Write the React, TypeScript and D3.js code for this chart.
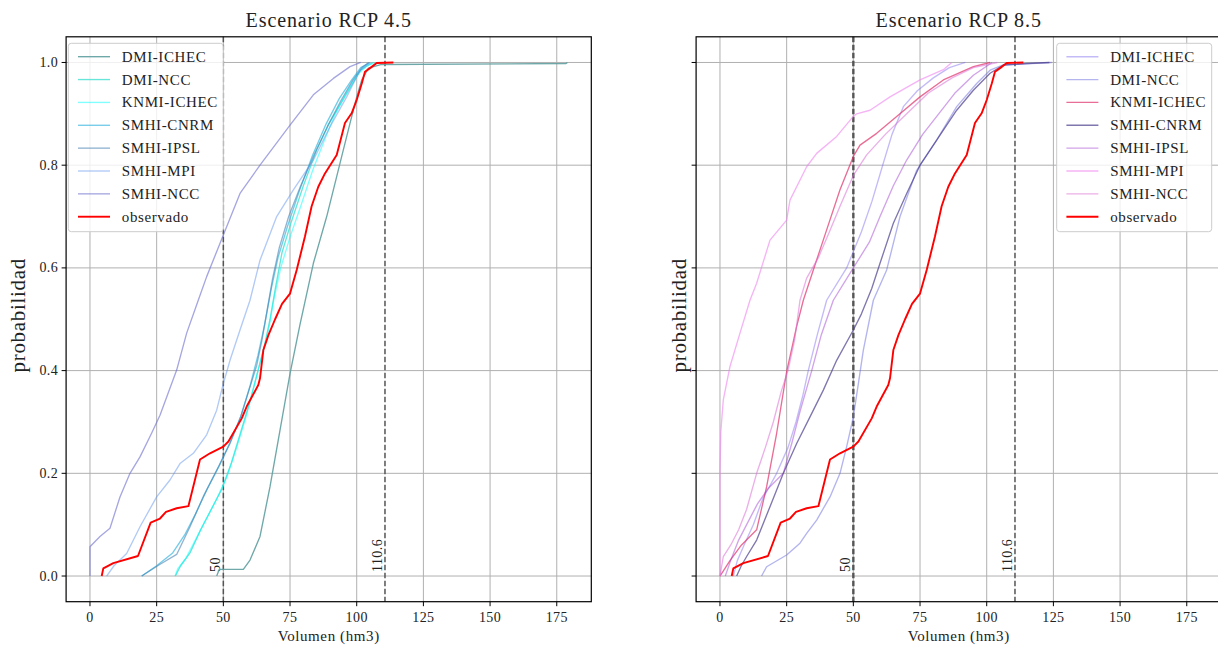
import React from "react";
import * as d3 from "d3";

type Pt = [number, number];

// ---------- axis ticks ----------
const volumeTicks = [0, 25, 50, 75, 100, 125, 150, 175];
const probTicks = [0, 0.2, 0.4, 0.6, 0.8, 1.0];
const refLines = [50, 110.6];
const modelNames = ["DMI-ICHEC", "DMI-NCC", "KNMI-ICHEC", "SMHI-CNRM", "SMHI-IPSL", "SMHI-MPI", "SMHI-NCC"];

// ---------- observed (same in both panels) ----------
const observado: Pt[] = [[4.4,0],[5,0.015],[8.75,0.025],[18,0.039],[22.75,0.104],[26.25,0.112],[28.5,0.125],[32.5,0.132],[36.9,0.136],[41.25,0.227],[45,0.239],[50,0.252],[51.9,0.262],[56.9,0.307],[58.75,0.33],[63.1,0.372],[63.75,0.385],[65,0.44],[66.9,0.469],[69.4,0.5],[72,0.53],[75,0.55],[77.5,0.596],[80.6,0.661],[83.1,0.72],[85.6,0.758],[88.1,0.784],[92.5,0.82],[95.6,0.882],[98.1,0.901],[100,0.927],[101.9,0.959],[103.1,0.982],[105,0.989],[107.5,0.999],[113.75,1.0]];

// ---------- RCP 4.5 ----------
const rcp45DmiIchec: Pt[] = [[47.5,0],[48.5,0.013],[57.5,0.013],[60,0.031],[63.75,0.077],[67.5,0.174],[71.25,0.284],[75,0.394],[78.75,0.49],[83.75,0.609],[88.75,0.7],[93.75,0.804],[97.5,0.882],[100,0.933],[101.9,0.966],[104.4,0.989],[109,0.996],[178.5,0.998],[179,1.0]];
const rcp45DmiNcc: Pt[] = [[32,0],[34,0.02],[37.5,0.045],[41.5,0.09],[45.5,0.13],[49.5,0.17],[53,0.22],[56.5,0.28],[60,0.34],[63,0.4],[65.5,0.45],[67.5,0.5],[69.5,0.56],[72,0.63],[75.5,0.69],[80,0.76],[85,0.83],[89.5,0.88],[94,0.92],[98,0.955],[101.5,0.985],[106,1.0]];
const rcp45KnmiIchec: Pt[] = [[31.9,0],[33,0.015],[36,0.035],[39.5,0.07],[43.5,0.11],[47.5,0.15],[51.5,0.195],[55,0.25],[58.5,0.31],[61.5,0.37],[64.5,0.43],[67,0.48],[69,0.54],[71.5,0.6],[75,0.66],[79,0.72],[83.5,0.79],[88,0.85],[92,0.9],[96,0.94],[100,0.975],[104,0.995],[108,1.0]];
const rcp45SmhiCnrm: Pt[] = [[19.4,0],[25,0.02],[31,0.045],[35.5,0.08],[39.5,0.12],[44,0.17],[48.5,0.215],[52.5,0.26],[56.5,0.31],[60,0.37],[63,0.43],[65.5,0.49],[68,0.56],[70.5,0.62],[74,0.68],[78.5,0.75],[83.5,0.82],[88.5,0.88],[93.5,0.93],[98,0.965],[101.5,0.99],[105,1.0]];
const rcp45SmhiIpsl: Pt[] = [[19.4,0],[26,0.022],[32.5,0.042],[37.5,0.096],[42.5,0.155],[47.5,0.206],[52.5,0.258],[56.5,0.31],[59.5,0.36],[62.5,0.41],[64.5,0.46],[66.5,0.52],[68.5,0.58],[71,0.64],[74.5,0.7],[79,0.76],[84,0.82],[89,0.875],[94,0.925],[98.5,0.965],[102,0.99],[104.5,1.0]];
const rcp45SmhiMpi: Pt[] = [[6.25,0],[9,0.02],[13.75,0.044],[18.75,0.096],[25,0.154],[30,0.187],[33.75,0.219],[38.75,0.239],[43.75,0.275],[47.5,0.323],[50,0.375],[52.5,0.42],[56.25,0.479],[60,0.537],[63.75,0.615],[70,0.7],[76.25,0.752],[83.75,0.81],[90,0.875],[96.25,0.933],[101.25,0.985],[105,1.0]];
const rcp45SmhiNcc: Pt[] = [[0,0],[0,0.057],[3.75,0.077],[7.5,0.093],[11.25,0.154],[15,0.2],[18.75,0.232],[23.1,0.278],[26.25,0.313],[32.5,0.401],[36.25,0.473],[40.6,0.537],[43.75,0.583],[50,0.664],[56.25,0.745],[63.75,0.8],[75,0.878],[83.75,0.937],[91.25,0.969],[97.5,0.992],[101.5,1.0]];

// ---------- RCP 8.5 ----------
const rcp85DmiIchec: Pt[] = [[5,0],[6.5,0.03],[9,0.06],[12.5,0.1],[16,0.15],[21.25,0.2],[25.5,0.25],[28.5,0.3],[31,0.35],[33.1,0.4],[36.5,0.47],[40,0.537],[47.5,0.6],[53,0.67],[57,0.73],[61,0.8],[64.5,0.86],[68.75,0.914],[74,0.945],[80,0.97],[86,0.99],[92,1.0]];
const rcp85DmiNcc: Pt[] = [[15.6,0],[17.5,0.018],[25,0.041],[30,0.064],[32.5,0.083],[36.25,0.109],[41.25,0.154],[45,0.2],[47.5,0.252],[50,0.31],[51.9,0.375],[53.75,0.44],[57.5,0.537],[62.5,0.596],[67.5,0.7],[73.75,0.79],[81.25,0.849],[88.75,0.914],[96.25,0.959],[101.25,0.985],[106,0.995],[124.4,1.0]];
const rcp85KnmiIchec: Pt[] = [[0,0],[3.75,0.03],[8,0.06],[13.75,0.09],[17.5,0.174],[21.25,0.278],[25,0.398],[28.75,0.486],[31.25,0.537],[35,0.596],[40,0.674],[45,0.752],[50,0.817],[52.5,0.839],[58.75,0.862],[66.25,0.895],[75,0.933],[83.75,0.966],[95,0.992],[101.25,1.0]];
const rcp85SmhiCnrm: Pt[] = [[6.25,0],[8,0.02],[10,0.038],[13.75,0.07],[18.75,0.135],[23.75,0.2],[28.75,0.258],[33.75,0.31],[38.75,0.362],[43.75,0.42],[50,0.479],[53,0.51],[56.9,0.56],[60,0.609],[65,0.687],[70,0.745],[75,0.8],[81.25,0.849],[88.75,0.907],[95,0.946],[101.25,0.979],[106.25,0.995],[115,0.998],[123.5,1.0]];
const rcp85SmhiIpsl: Pt[] = [[2,0],[4,0.03],[7,0.07],[10,0.1],[14,0.14],[18,0.17],[23.75,0.2],[27,0.26],[30,0.32],[34.4,0.4],[38,0.47],[42.5,0.537],[50,0.6],[56,0.65],[60,0.7],[65,0.76],[70,0.81],[76,0.86],[82,0.9],[88,0.94],[95,0.975],[102,1.0]];
const rcp85SmhiMpi: Pt[] = [[0,0],[0,0.1],[0,0.2],[0.3,0.28],[1.25,0.343],[3.75,0.408],[7.5,0.473],[11.25,0.537],[13.75,0.57],[18.75,0.654],[25,0.693],[26.25,0.732],[32.5,0.797],[36.25,0.823],[43.75,0.856],[50,0.895],[51.25,0.9],[56.25,0.907],[63.75,0.933],[75,0.966],[83.75,0.986],[86.9,1.0]];
const rcp85SmhiNcc: Pt[] = [[0,0],[1.25,0.038],[4,0.06],[7,0.09],[10,0.13],[13.75,0.2],[17,0.25],[20,0.3],[23,0.36],[25.5,0.4],[28,0.46],[30,0.537],[32.5,0.58],[36.9,0.62],[41,0.67],[45,0.72],[50,0.78],[55,0.82],[62,0.86],[70,0.9],[78,0.94],[87,0.97],[95,0.99],[104,1.0]];

const rcp45Data = [rcp45DmiIchec, rcp45DmiNcc, rcp45KnmiIchec, rcp45SmhiCnrm, rcp45SmhiIpsl, rcp45SmhiMpi, rcp45SmhiNcc];
const rcp85Data = [rcp85DmiIchec, rcp85DmiNcc, rcp85KnmiIchec, rcp85SmhiCnrm, rcp85SmhiIpsl, rcp85SmhiMpi, rcp85SmhiNcc];

const rcp45Colors = ["#5f9ea0", "#40e0d0", "#00ffff", "#2ab0dc", "#4682b4", "#6495ed", "#6a6acd"];
const rcp45Opacity = [0.9, 0.8, 0.5, 0.65, 0.6, 0.5, 0.6];
const rcp85Colors = ["#7b68ee", "#6a6ae0", "#e0306a", "#483d8b", "#9932cc", "#ee82ee", "#da70d6"];
const rcp85Opacity = [0.45, 0.5, 0.7, 0.7, 0.45, 0.6, 0.55];

const FONT = "'Liberation Serif', 'DejaVu Serif', serif";
const W = 1218;
const H = 646;
const yTop = 36.8;
const yBot = 601.7;

function Panel({ x0, x1, title, data, colors, opacity, showYLabels, ylabelX, clipId }: any) {
  const xs = d3.scaleLinear().domain([-8.95, 187.95]).range([x0, x1]);
  const ys = d3.scaleLinear().domain([-0.05, 1.05]).range([yBot, yTop]);
  const line = d3.line<Pt>().x((d) => xs(d[0])).y((d) => ys(d[1]));
  const cx = (x0 + x1) / 2;
  const legX = showYLabels ? x0 + 2.2 : x1 - 8 - 156.6;
  const legY = 43.3;
  const rowY = (i: number) => legY + 13.4 + i * 22.86;
  const grid = "#b0b0b0";
  return (
    <g>
      <defs>
        <clipPath id={clipId}>
          <rect x={x0} y={yTop} width={x1 - x0} height={yBot - yTop} />
        </clipPath>
      </defs>
      {volumeTicks.map((t) => (
        <line key={"gx" + t} x1={xs(t)} x2={xs(t)} y1={yTop} y2={yBot} stroke={grid} strokeWidth={1} />
      ))}
      {probTicks.map((t) => (
        <line key={"gy" + t} x1={x0} x2={x1} y1={ys(t)} y2={ys(t)} stroke={grid} strokeWidth={1} />
      ))}
      {refLines.map((r, i) => (
        <g key={"ref" + r}>
          <line x1={xs(r)} x2={xs(r)} y1={yTop} y2={yBot} stroke="#555" strokeWidth={!showYLabels && i === 0 ? 2.4 : 1.5} strokeDasharray="5.5,2.5" />
          <text
            transform={`translate(${xs(r) - 3},${ys(0.008)}) rotate(-90)`}
            fontFamily={FONT}
            fontSize={14}
            letterSpacing={0.4}
            fill="#222"
          >
            {String(r)}
          </text>
        </g>
      ))}
      <g clipPath={`url(#${clipId})`}>
        {data.map((s: Pt[], i: number) => (
          <path key={"s" + i} d={line(s) || ""} fill="none" stroke={colors[i]} strokeOpacity={opacity[i]} strokeWidth={1.35} strokeLinejoin="round" />
        ))}
        <path d={line(observado) || ""} fill="none" stroke="#ff0000" strokeWidth={1.9} strokeLinejoin="round" />
      </g>
      <rect x={x0} y={yTop} width={x1 - x0} height={yBot - yTop} fill="none" stroke="#000" strokeWidth={1.2} />
      {volumeTicks.map((t) => (
        <g key={"xt" + t}>
          <line x1={xs(t)} x2={xs(t)} y1={yBot} y2={yBot + 4.5} stroke="#000" strokeWidth={1} />
          <text x={xs(t)} y={yBot + 20} textAnchor="middle" fontFamily={FONT} fontSize={14} letterSpacing={0.4} fill="#222">
            {t}
          </text>
        </g>
      ))}
      {probTicks.map((t) => (
        <g key={"yt" + t}>
          <line x1={x0 - 4.5} x2={x0} y1={ys(t)} y2={ys(t)} stroke="#000" strokeWidth={1} />
          {showYLabels && (
            <text x={x0 - 8} y={ys(t) + 4.5} textAnchor="end" fontFamily={FONT} fontSize={14} letterSpacing={0.4} fill="#222">
              {t.toFixed(1)}
            </text>
          )}
        </g>
      ))}
      <text x={cx} y={641} textAnchor="middle" fontFamily={FONT} fontSize={15} letterSpacing={0.6} fill="#222">
        Volumen (hm3)
      </text>
      <text transform={`translate(${ylabelX},${(yTop + yBot) / 2 - 4}) rotate(-90)`} textAnchor="middle" fontFamily={FONT} fontSize={21} letterSpacing={0.7} fill="#222">
        probabilidad
      </text>
      <text x={cx} y={27} textAnchor="middle" fontFamily={FONT} fontSize={20} letterSpacing={0.9} fill="#222">
        {title}
      </text>
      <rect x={legX} y={legY} width={155} height={188.4} rx={3} fill="#fff" fillOpacity={0.8} stroke="#cccccc" strokeWidth={1} />
      {modelNames.concat(["observado"]).map((name, i) => {
        const isObs = i === 7;
        return (
          <g key={"lg" + name}>
            <line
              x1={legX + 9.7}
              x2={legX + 41.7}
              y1={rowY(i)}
              y2={rowY(i)}
              stroke={isObs ? "#ff0000" : colors[i]}
              strokeOpacity={isObs ? 1 : opacity[i]}
              strokeWidth={isObs ? 1.9 : 1.35}
            />
            <text x={legX + 53.5} y={rowY(i) + 5} fontFamily={FONT} fontSize={15} letterSpacing={0.6} fill="#222">
              {name}
            </text>
          </g>
        );
      })}
    </g>
  );
}

export default function App() {
  return (
    <svg width={W} height={H} viewBox={`0 0 ${W} ${H}`} style={{ position: "absolute", left: 0, top: 0, background: "#fff" }}>
      <rect x={0} y={0} width={W} height={H} fill="#fff" />
      <Panel x0={66.1} x1={591.3} title="Escenario RCP 4.5" data={rcp45Data} colors={rcp45Colors} opacity={rcp45Opacity} showYLabels={true} ylabelX={25} clipId="clipL" />
      <Panel x0={696.1} x1={1221.3} title="Escenario RCP 8.5" data={rcp85Data} colors={rcp85Colors} opacity={rcp85Opacity} showYLabels={false} ylabelX={686} clipId="clipR" />
    </svg>
  );
}
